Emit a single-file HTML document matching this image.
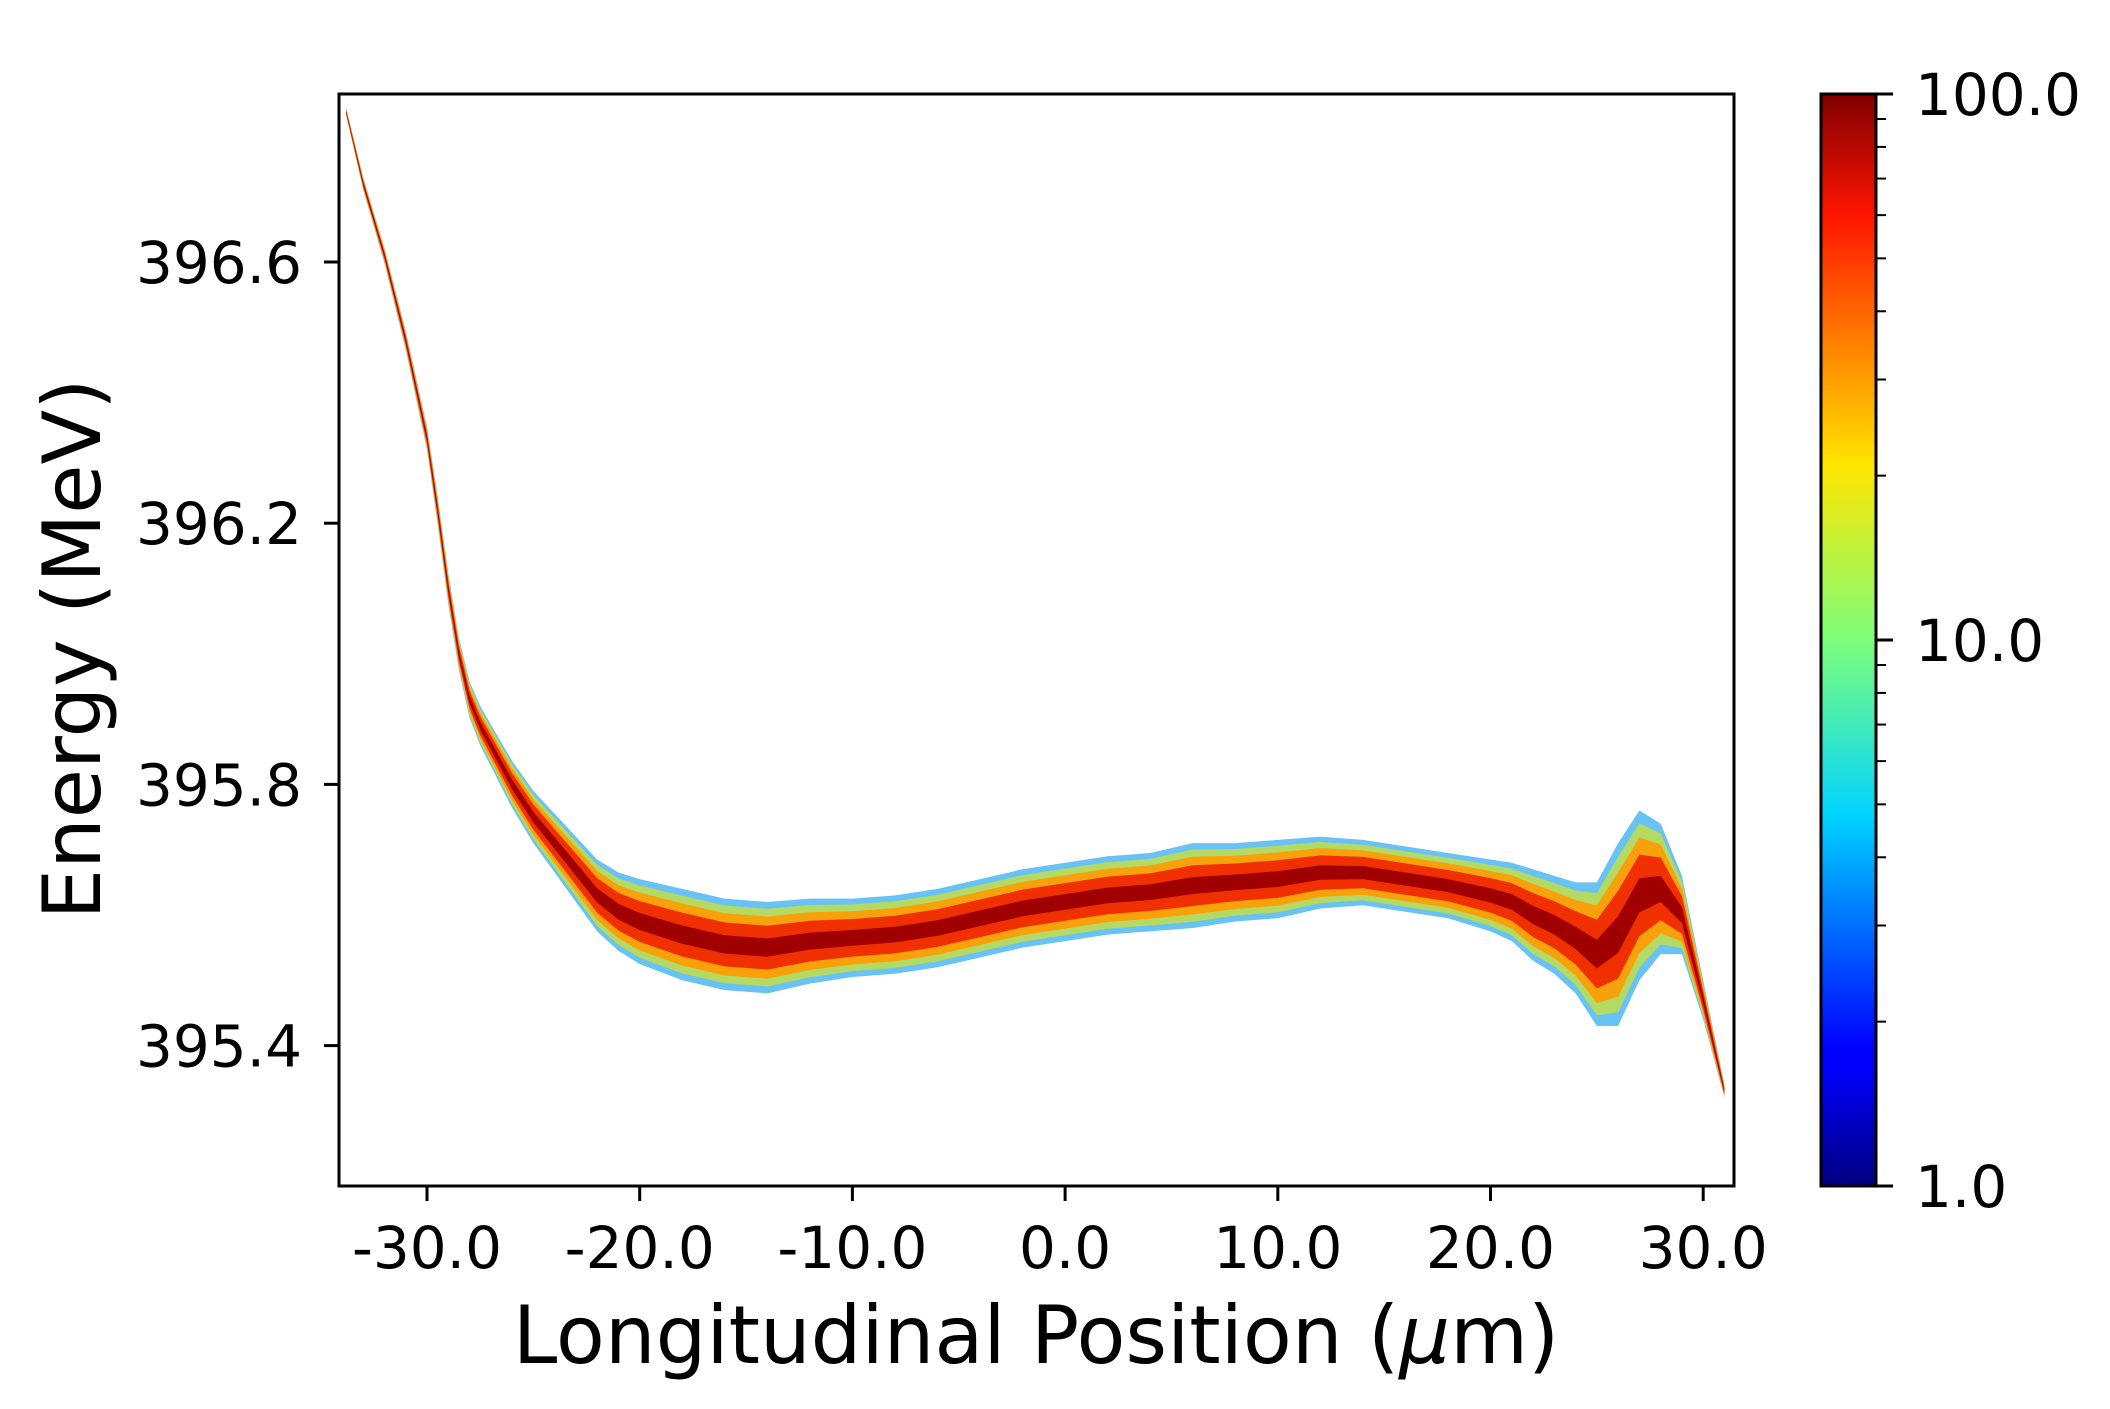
<!DOCTYPE html>
<html><head><meta charset="utf-8"><style>
html,body{margin:0;padding:0;background:#fff;}
svg{display:block;font-family:"DejaVu Sans","Liberation Sans",sans-serif;}
</style></head><body>
<svg id="chart" width="2110" height="1409" viewBox="0 0 2110 1409" xmlns="http://www.w3.org/2000/svg">
<defs>
<linearGradient id="jet" x1="0" y1="1" x2="0" y2="0">
<stop offset="0" stop-color="#00007f"/><stop offset="0.11" stop-color="#0000ff"/>
<stop offset="0.125" stop-color="#0000ff"/><stop offset="0.34" stop-color="#00d4ff"/>
<stop offset="0.5" stop-color="#7dff7a"/><stop offset="0.66" stop-color="#ffe500"/>
<stop offset="0.89" stop-color="#ff1400"/><stop offset="1" stop-color="#7f0000"/>
</linearGradient>
<clipPath id="plotclip"><rect x="339" y="94" width="1395" height="1092"/></clipPath>
</defs>
<g id="bands" clip-path="url(#plotclip)"></g>
<rect x="339" y="94" width="1395" height="1092" fill="none" stroke="#000" stroke-width="3"/>
<g id="xticks"></g>
<g id="yticks"></g>
<text x="1036" y="1363" font-size="80" text-anchor="middle">Longitudinal Position (<tspan font-style="italic">μ</tspan>m)</text>
<text transform="translate(100,649) rotate(-90)" font-size="80" text-anchor="middle">Energy (MeV)</text>
<rect x="1821" y="94" width="55" height="1092" fill="url(#jet)" stroke="#000" stroke-width="3"/>
<g id="cticks"></g>
</svg>
<script>
const xTicks=[-30,-20,-10,0,10,20,30];
const yTicks=[395.4,395.8,396.2,396.6];
const cTicks=[1,10,100];
const posX=[-33.8,-33,-32,-31,-30,-29.5,-29,-28.5,-28,-27.5,-27,-26,-25,-24,-23,-22,-21,-20,-18,-16,-14,-12,-10,-8,-6,-4,-2,0,2,4,6,8,10,12,14,16,18,20,21,22,23,24,25,26,27,28,29,30,30.5,31];
const centerE=[396.83,396.72,396.61,396.48,396.33,396.22,396.1,396.0,395.93,395.89,395.86,395.80,395.75,395.71,395.67,395.63,395.605,395.59,395.57,395.555,395.55,395.56,395.565,395.57,395.58,395.595,395.61,395.62,395.63,395.635,395.645,395.65,395.655,395.665,395.665,395.655,395.645,395.63,395.62,395.6,395.585,395.565,395.54,395.57,395.63,395.64,395.6,395.47,395.4,395.33];
const spreadE=[0.006,0.01,0.012,0.015,0.018,0.022,0.024,0.025,0.028,0.03,0.032,0.036,0.04,0.045,0.05,0.055,0.06,0.065,0.07,0.07,0.07,0.065,0.06,0.06,0.06,0.06,0.06,0.06,0.06,0.06,0.065,0.06,0.06,0.055,0.05,0.05,0.05,0.055,0.06,0.07,0.075,0.085,0.11,0.14,0.13,0.1,0.06,0.03,0.02,0.01];
const X=v=>427+(v+30)*21.27;
const Y=v=>262+(396.6-v)*653;
const NS="http://www.w3.org/2000/svg";
function mk(t,a,p){const e=document.createElementNS(NS,t);for(const k in a)e.setAttribute(k,a[k]);p.appendChild(e);return e;}
const bands=document.getElementById('bands');
const layers=[[1.0,'#2aa8f0',0.7],[0.85,'#c8e040',0.8],[0.68,'#ff9a00',0.9],[0.48,'#f03000',1],[0.2,'#a00000',1]];
layers.forEach(([f,c,o])=>{
  let top=[],bot=[];
  for(let i=0;i<posX.length;i++){top.push(X(posX[i])+','+Y(centerE[i]+spreadE[i]*f));bot.unshift(X(posX[i])+','+Y(centerE[i]-spreadE[i]*f));}
  const p=mk('polygon',{points:top.concat(bot).join(' '),fill:c,'fill-opacity':o},bands);
  
  
});
const xt=document.getElementById('xticks');
xTicks.forEach(v=>{
  mk('line',{x1:X(v),x2:X(v),y1:1186,y2:1201,stroke:'#000','stroke-width':3},xt);
  const t=mk('text',{x:X(v),y:1268,'font-size':58,'text-anchor':'middle'},xt);
  t.textContent=v.toFixed(1);
  
  
});
const yt=document.getElementById('yticks');
yTicks.forEach(v=>{
  mk('line',{x1:324,x2:339,y1:Y(v),y2:Y(v),stroke:'#000','stroke-width':3},yt);
  const t=mk('text',{x:302,y:Y(v)+21,'font-size':58,'text-anchor':'end'},yt);
  t.textContent=v.toFixed(1);
  
  
});
const ct=document.getElementById('cticks');
const CY=v=>1186-Math.log10(v)/2*1092;
for(let d=1;d<100;d*=10)for(let m=2;m<10;m++){
  mk('line',{x1:1876,x2:1886,y1:CY(d*m),y2:CY(d*m),stroke:'#000','stroke-width':2},ct);
}
cTicks.forEach(v=>{
  mk('line',{x1:1876,x2:1893,y1:CY(v),y2:CY(v),stroke:'#000','stroke-width':3},ct);
  const t=mk('text',{x:1915,y:CY(v)+21,'font-size':58},ct);
  t.textContent=v.toFixed(1);
  
  
});
</script>
</body></html>
